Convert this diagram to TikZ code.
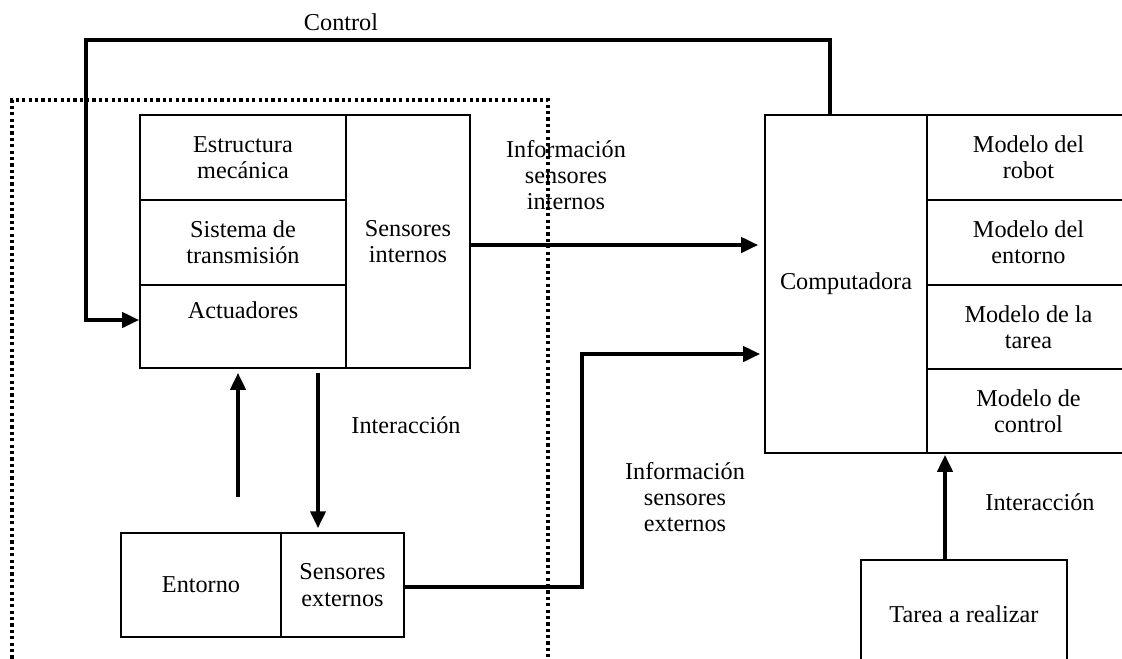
\documentclass[tikz,border=0pt]{standalone}
\usepackage{fontspec}
\setmainfont{Liberation Serif}
\usetikzlibrary{arrows.meta}
\newcommand{\unitpx}{0.532pt}
\begin{document}
\begin{tikzpicture}[x=0.532pt, y=-0.532pt,
    font=\fontsize{12.9}{14}\selectfont,
    box/.style={rectangle, draw, line width=0.9pt, align=center, inner sep=0pt},
    lbl/.style={align=center, inner sep=0pt},
    arr/.style={line width=2pt, shorten >=4*\unitpx, -{Triangle[length=9pt, width=8pt]}},
    sep/.style={line width=1.7pt, dash pattern=on 1.7pt off 1.7pt}
]
  \useasboundingbox (0,0) rectangle (1122,658);
  \clip (0,0) rectangle (1122,658);

  \draw[sep] (12,665) -- (12,100) -- (548,100) -- (548,665);

  \node[box, minimum width=206*\unitpx, minimum height=85*\unitpx] (estr) at (243,157.5) {Estructura\\mecánica};
  \node[box, minimum width=206*\unitpx, minimum height=85*\unitpx] (trans) at (243,242.5) {Sistema de\\transmisión};
  \node[box, minimum width=206*\unitpx, minimum height=83*\unitpx,
        label={[lbl, anchor=north, yshift=-9pt]north:Actuadores}] (act) at (243,326.5) {};
  \node[box, minimum width=124*\unitpx, minimum height=253*\unitpx] (sint) at (408,241.5) {Sensores\\internos};

  \node[box, minimum width=162*\unitpx, minimum height=338*\unitpx] (comp) at (846,284) {Computadora};
  \node[box, minimum width=203*\unitpx, minimum height=85*\unitpx] (mrob) at (1028.5,157.5) {Modelo del\\robot};
  \node[box, minimum width=203*\unitpx, minimum height=85*\unitpx] (ment) at (1028.5,242.5) {Modelo del\\entorno};
  \node[box, minimum width=203*\unitpx, minimum height=84*\unitpx] (mtar) at (1028.5,327) {Modelo de la\\tarea};
  \node[box, minimum width=203*\unitpx, minimum height=84*\unitpx] (mctl) at (1028.5,411) {Modelo de\\control};

  \node[box, minimum width=160*\unitpx, minimum height=104*\unitpx] (ent) at (201,585) {Entorno};
  \node[box, minimum width=123*\unitpx, minimum height=104*\unitpx] (sext) at (342.5,585) {Sensores\\externos};
  \node[box, minimum width=206*\unitpx, minimum height=108*\unitpx] (tarea) at (964,614) {Tarea a realizar};

  \node[lbl] (lctl) at (341,22) {Control};
  \node[lbl] (lint) at (566,175) {Información\\sensores\\internos};
  \node[lbl] (linter) at (406,425) {Interacción};
  \node[lbl] (lext) at (685,497) {Información\\sensores\\externos};
  \node[lbl] (linter2) at (1040,502) {Interacción};

  \coordinate (c1) at (830,40);
  \coordinate (c2) at (86,40);
  \coordinate (c3) at (86,320);
  \coordinate (e1) at (582,587);
  \coordinate (e2) at (582,354);
  \coordinate (u1) at (238,497);
  \coordinate (d1) at (318,373);
  \coordinate (t1) at (945,560);

  \draw[arr, shorten >=0pt] (comp.north -| c1) -- (c1) -- (c2) -- (c3) -- (c3 -| act.west);
  \draw[arr, shorten >=6*\unitpx] ([yshift=-3.5*\unitpx]sint.east) -- ([yshift=-3.5*\unitpx]sint.east -| comp.west);
  \draw[arr] (sext.east |- e1) -- (e1) -- (e2) -- (e2 -| comp.west);
  \draw[arr] (u1) -- (act.south -| u1);
  \draw[arr] (d1) -- (sext.north -| d1);
  \draw[arr, shorten >=1*\unitpx] (tarea.north -| t1) -- (comp.south -| t1);
\end{tikzpicture}
\end{document}
